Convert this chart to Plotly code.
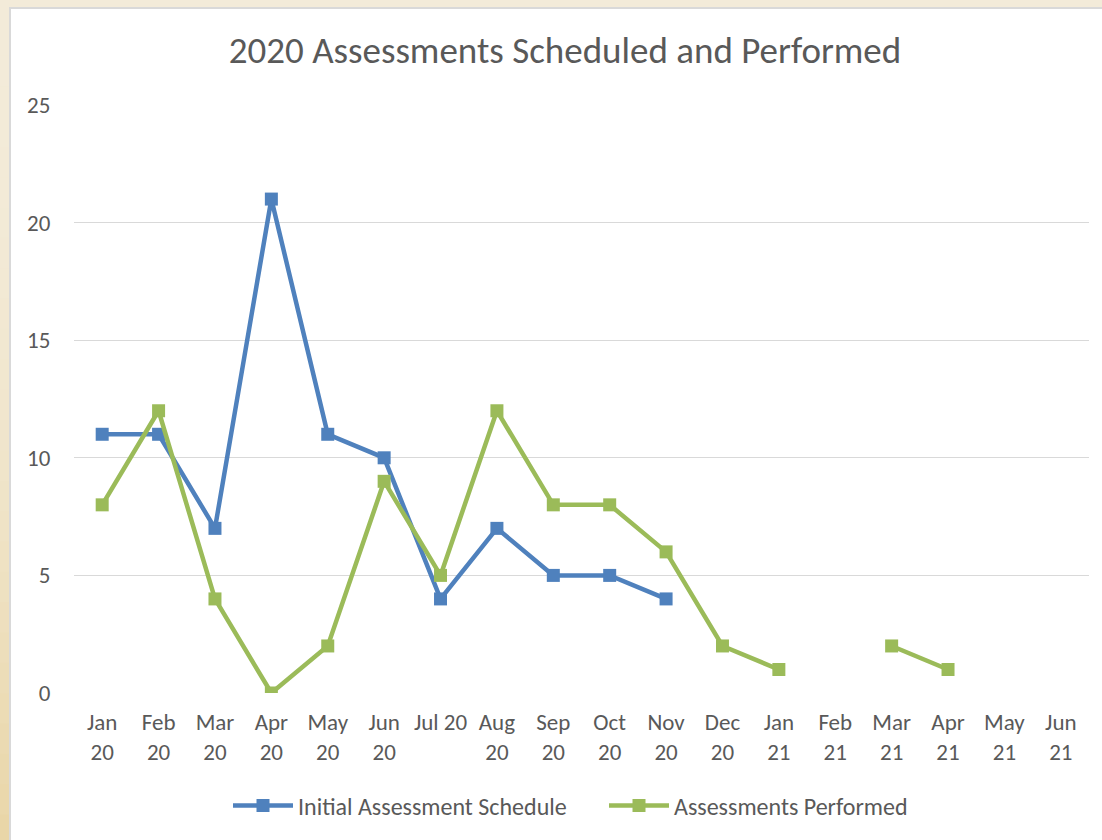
import plotly.graph_objects as go

categories = ["Jan 20", "Feb 20", "Mar 20", "Apr 20", "May 20", "Jun 20", "Jul 20", "Aug 20",
              "Sep 20", "Oct 20", "Nov 20", "Dec 20", "Jan 21", "Feb 21", "Mar 21", "Apr 21",
              "May 21", "Jun 21"]
tick_labels = ["Jan<br>20", "Feb<br>20", "Mar<br>20", "Apr<br>20", "May<br>20", "Jun<br>20",
               "Jul 20<br> ", "Aug<br>20", "Sep<br>20", "Oct<br>20", "Nov<br>20", "Dec<br>20",
               "Jan<br>21", "Feb<br>21", "Mar<br>21", "Apr<br>21", "May<br>21", "Jun<br>21"]
initial_schedule = [11, 11, 7, 21, 11, 10, 4, 7, 5, 5, 4, None, None, None, None, None, None, None]
performed = [8, 12, 4, 0, 2, 9, 5, 12, 8, 8, 6, 2, 1, None, 2, 1, None, None]
y_ticks = [0, 5, 10, 15, 20, 25]

FONT = "Carlito, Calibri, Lato, sans-serif"
TXT = "#595959"
BLUE = "#4F81BD"
GREEN = "#9BBB59"

fig = go.Figure()
fig.add_trace(go.Scatter(
    x=categories, y=initial_schedule, name="Initial Assessment Schedule",
    mode="lines+markers", connectgaps=False,
    line=dict(color=BLUE, width=4.5),
    marker=dict(symbol="square", size=13, color=BLUE),
))
fig.add_trace(go.Scatter(
    x=categories, y=performed, name="Assessments Performed",
    mode="lines+markers", connectgaps=False,
    line=dict(color=GREEN, width=4.5),
    marker=dict(symbol="square", size=13, color=GREEN),
))

L, R, T, B = 74, 13, 105, 147
W, H = 1102, 840
pw, ph = W - L - R, H - T - B


def px2x(px):
    return (px - L) / pw


def py2y(py):
    return (H - B - py) / ph


shapes = [
    dict(type="rect", xref="paper", yref="paper", x0=px2x(-5), x1=px2x(W + 5),
         y0=py2y(8), y1=py2y(-5), fillcolor="#F3EBD9", line=dict(width=0), layer="below"),
]
# left beige strip with vertical gradient
n_bands = 28
top_rgb = (243, 235, 217)
bot_rgb = (233, 214, 168)
for i in range(n_bands):
    f = i / (n_bands - 1)
    f = f ** 2
    c = tuple(round(top_rgb[k] + (bot_rgb[k] - top_rgb[k]) * f) for k in range(3))
    y_top = -5 + i * (H + 10) / n_bands
    y_bot = -5 + (i + 1) * (H + 10) / n_bands + 1
    shapes.append(dict(type="rect", xref="paper", yref="paper", x0=px2x(-5), x1=px2x(9.5),
                       y0=py2y(y_bot), y1=py2y(y_top), fillcolor="rgb(%d,%d,%d)" % c,
                       line=dict(width=0), layer="below"))
shapes += [
    dict(type="line", xref="paper", yref="paper", x0=px2x(9.5), x1=px2x(W + 5),
         y0=py2y(8), y1=py2y(8), line=dict(color="#D9D9D9", width=2), layer="below"),
    dict(type="line", xref="paper", yref="paper", x0=px2x(10), x1=px2x(10),
         y0=py2y(7), y1=py2y(H + 5), line=dict(color="#D9D9D9", width=2), layer="below"),
]

fig.update_layout(
    width=W, height=H,
    margin=dict(l=L, r=R, t=T, b=B),
    paper_bgcolor="white", plot_bgcolor="white",
    font=dict(family=FONT, color=TXT, size=23),
    title=dict(text="2020 Assessments Scheduled and Performed", x=px2x(565), xref="paper",
               xanchor="center", y=1 - 50 / H, yanchor="middle",
               font=dict(family=FONT, size=37, color=TXT)),
    showlegend=True,
    legend=dict(orientation="h", x=px2x(228), xanchor="left", y=py2y(806), yanchor="middle",
                font=dict(family=FONT, size=24, color=TXT), itemwidth=60,
                entrywidth=301, entrywidthmode="pixels",
                bgcolor="rgba(0,0,0,0)"),
    shapes=shapes,
)
fig.update_xaxes(
    type="category", tickmode="array", tickvals=categories, ticktext=tick_labels,
    showgrid=False, showline=False, zeroline=False,
    ticks="outside", ticklen=8, tickcolor="rgba(0,0,0,0)",
    tickfont=dict(family=FONT, size=23, color=TXT),
    range=[-0.5, len(categories) - 0.5],
)
fig.update_yaxes(
    range=[0, 25], tickmode="array", tickvals=y_ticks,
    showgrid=True, gridcolor="#D9D9D9", gridwidth=1, zeroline=False, showline=False,
    ticks="outside", ticklen=18, tickcolor="rgba(0,0,0,0)",
    tickfont=dict(family=FONT, size=23, color=TXT),
)

fig.write_html("out.html", config={"displayModeBar": False},
               post_script="document.body.style.margin='0px';")
